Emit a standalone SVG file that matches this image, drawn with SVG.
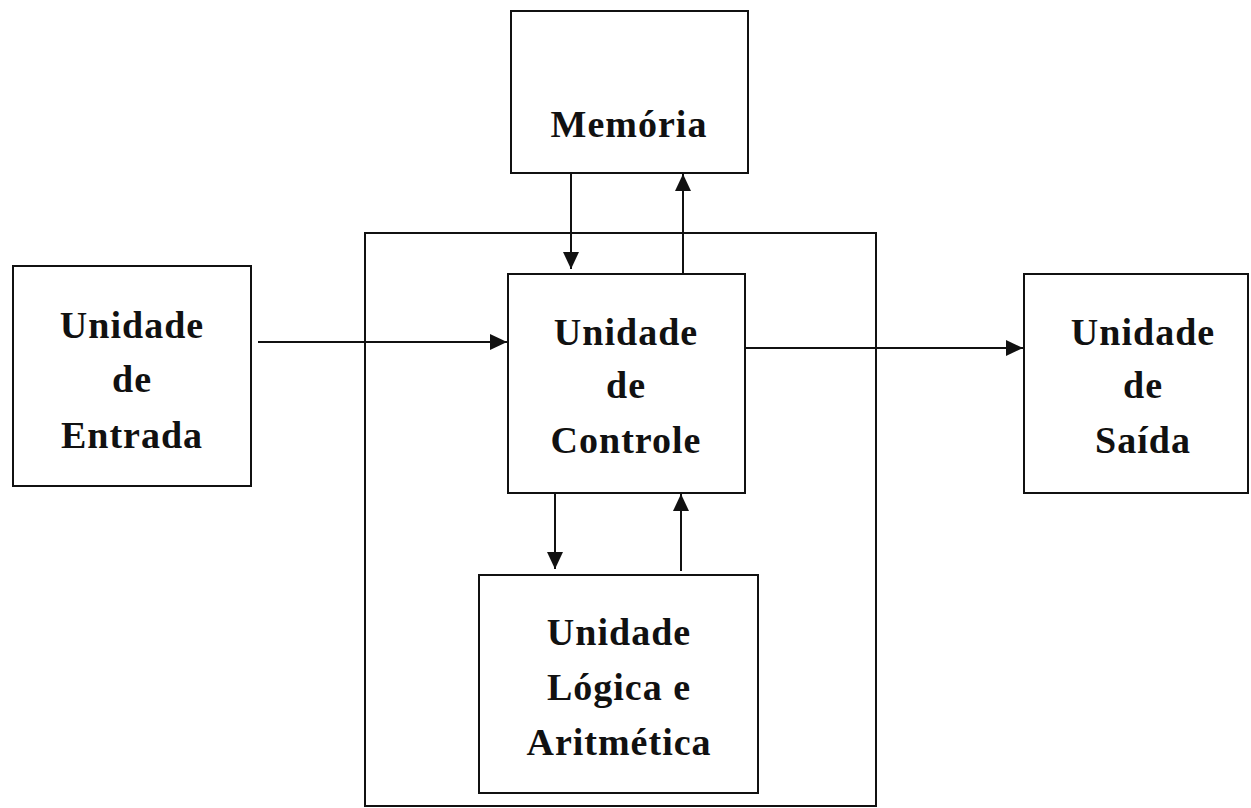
<svg xmlns="http://www.w3.org/2000/svg" width="1251" height="808" viewBox="0 0 1251 808">
<style>
.box{fill:none;stroke:#111;stroke-width:2}
.ln{fill:none;stroke:#111;stroke-width:2}
.t{font-family:"Liberation Serif","Times New Roman",serif;font-weight:bold;font-size:38px;fill:#111;text-anchor:middle;letter-spacing:1px}
</style>
<defs>
<marker id="ah" markerWidth="18" markerHeight="18" refX="17" refY="9" orient="auto" markerUnits="userSpaceOnUse">
<path d="M0,1 L17,9 L0,17 Z" fill="#111"/>
</marker>
</defs>
<rect width="1251" height="808" fill="#fff"/>
<g id="cpu"><rect class="box" x="365" y="233" width="511" height="573"/></g>
<g id="memoria"><rect class="box" x="511" y="11" width="237" height="162"/><text class="t" x="629" y="137">Memória</text></g>
<g id="entrada"><rect class="box" x="13" y="266" width="238" height="220"/>
<text class="t" x="132" y="338">Unidade</text><text class="t" x="132" y="392">de</text><text class="t" x="132" y="448">Entrada</text></g>
<g id="controle"><rect class="box" x="508" y="274" width="237" height="219"/>
<text class="t" x="626" y="345">Unidade</text><text class="t" x="626" y="398">de</text><text class="t" x="626" y="453">Controle</text></g>
<g id="saida"><rect class="box" x="1024" y="274" width="224" height="219"/>
<text class="t" x="1143" y="345">Unidade</text><text class="t" x="1143" y="398">de</text><text class="t" x="1143" y="453">Saída</text></g>
<g id="ula"><rect class="box" x="479" y="575" width="279" height="218"/>
<text class="t" x="619" y="645">Unidade</text><text class="t" x="619" y="700">Lógica e</text><text class="t" x="619" y="755">Aritmética</text></g>
<g id="connectors">
<line class="ln" x1="571" y1="173" x2="571" y2="269" marker-end="url(#ah)"/>
<line class="ln" x1="683" y1="274" x2="683" y2="174" marker-end="url(#ah)"/>
<line class="ln" x1="258" y1="342" x2="507" y2="342" marker-end="url(#ah)"/>
<line class="ln" x1="745" y1="348" x2="1023" y2="348" marker-end="url(#ah)"/>
<line class="ln" x1="555" y1="493" x2="555" y2="569" marker-end="url(#ah)"/>
<line class="ln" x1="681" y1="571" x2="681" y2="494" marker-end="url(#ah)"/>
</g>
</svg>
